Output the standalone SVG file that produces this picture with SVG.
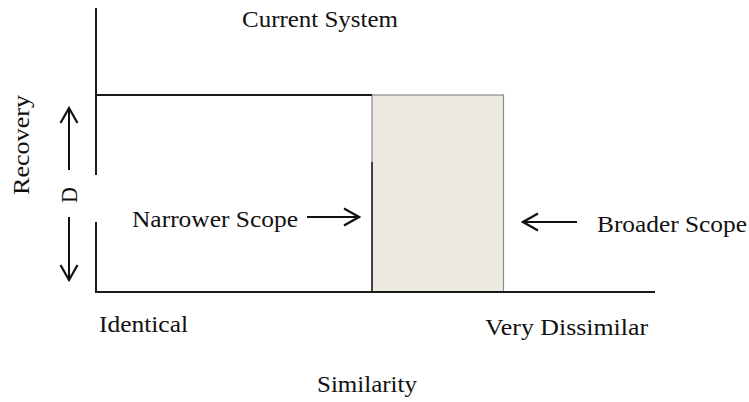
<svg xmlns="http://www.w3.org/2000/svg" width="749" height="402" viewBox="0 0 749 402">
<style>
text{font-size:23px;fill:#111}
.ax{stroke:#1a1a1a;stroke-width:2;fill:none}
.arr{stroke:#111;stroke-width:2;fill:none}
</style>
<defs>
<marker id="ah" markerWidth="18" markerHeight="20" refX="16" refY="10" orient="auto" markerUnits="userSpaceOnUse">
<path d="M1,1.5 L16,10 L1,18.5" fill="none" stroke="#111" stroke-width="2.2"/>
</marker>
</defs>
<rect width="749" height="402" fill="#fff"/>
<g id="scope-box">
<rect x="372" y="95" width="131.5" height="197" fill="#ECE9E0" stroke="#8a8a8a" stroke-width="1.2"/>
<line x1="372" y1="162" x2="372" y2="292" stroke="#333" stroke-width="1.8"/>
</g>
<g id="axes">
<line class="ax" x1="96" y1="8" x2="96" y2="175"/>
<line class="ax" x1="96" y1="222" x2="96" y2="293"/>
<line class="ax" x1="95" y1="292" x2="655" y2="292"/>
<line class="ax" x1="96" y1="95" x2="372" y2="95"/>
</g>
<g id="connectors">
<line class="arr" x1="69" y1="170" x2="69" y2="108" marker-end="url(#ah)"/>
<line class="arr" x1="69" y1="217" x2="69" y2="280" marker-end="url(#ah)"/>
<line class="arr" x1="307" y1="217" x2="359" y2="217" marker-end="url(#ah)"/>
<line class="arr" x1="577" y1="222" x2="523" y2="222" marker-end="url(#ah)"/>
</g>
<g id="labels" font-family="Liberation Serif, serif">
<text x="242" y="27" textLength="156" lengthAdjust="spacingAndGlyphs">Current System</text>
<text x="132" y="227" textLength="166" lengthAdjust="spacingAndGlyphs">Narrower Scope</text>
<text x="597" y="232" textLength="150" lengthAdjust="spacingAndGlyphs">Broader Scope</text>
<text x="99" y="332" textLength="89" lengthAdjust="spacingAndGlyphs">Identical</text>
<text x="485" y="335" textLength="163" lengthAdjust="spacingAndGlyphs">Very Dissimilar</text>
<text x="317" y="392" textLength="100" lengthAdjust="spacingAndGlyphs">Similarity</text>
<text transform="translate(29,195) rotate(-90)" textLength="100" lengthAdjust="spacingAndGlyphs">Recovery</text>
<text transform="translate(77,203) rotate(-90)" textLength="16" lengthAdjust="spacingAndGlyphs">D</text>
</g>
</svg>
